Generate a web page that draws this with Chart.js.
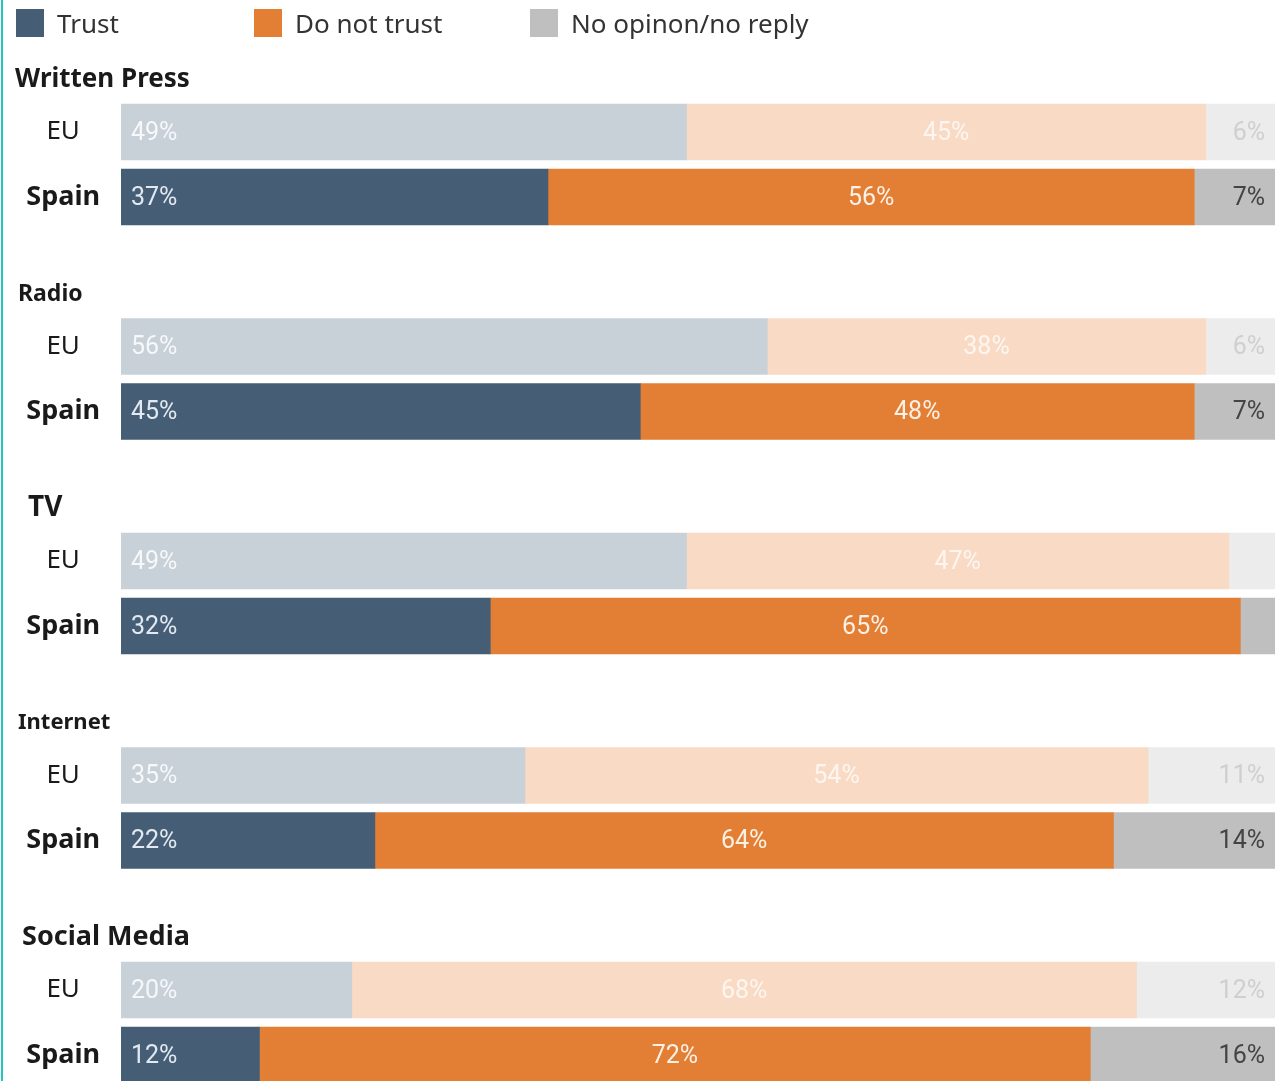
<!DOCTYPE html>
<html>
<head>
<meta charset="utf-8">
<script src="https://cdn.jsdelivr.net/npm/chart.js@4.4.1/dist/chart.umd.min.js"></script>
<style>
  html, body { margin: 0; padding: 0; background: #ffffff; }
  #wrap { position: relative; width: 1283px; height: 1081px; overflow: hidden; background: #fff; }
  #edge { position: absolute; left: 1px; top: 0; width: 2px; height: 1081px; background: #22c6bd; }
  #chartBox { position: absolute; left: 0; top: 0; width: 1283px; height: 1081px; }
  .leg { position: absolute; top: 9px; height: 28px; display: flex; align-items: center;
         font-family: "Noto Sans", "Open Sans", sans-serif; font-size: 26px; color: #333; }
  .leg span.box { display: inline-block; width: 28px; height: 28px; margin-right: 13px; }
</style>
</head>
<body>
<div id="wrap">
  <div id="chartBox"><canvas id="c"></canvas></div>
  <div id="edge"></div>
  <div id="legend"></div>
</div>
<script>
// ---- data ----
const groups = ['Written Press', 'Radio', 'TV', 'Internet', 'Social Media'];
const regions = ['EU', 'Spain'];
const seriesNames = ['Trust', 'Do not trust', 'No opinon/no reply'];
const trust      = [49, 37, 56, 45, 49, 32, 35, 22, 20, 12];
const distrust   = [45, 56, 38, 48, 47, 65, 54, 64, 68, 72];
const noOpinion  = [6, 7, 6, 7, 4, 3, 11, 14, 12, 16];

// ---- styles ----
const fullColors  = ['#455e76', '#e27f35', '#bfbfbf'];
const fadedColors = ['#c8d0d8', '#f8dac5', '#ececec'];
const labelFull   = ['#e2e9f0', '#fdf0e4', '#444444'];
const labelFaded  = ['#f6f8fa', '#fdf6f0', '#cfcfcf'];
const titleFontSize = [26, 23, 28, 22, 27];
const titleIndent   = [15, 18, 28, 18, 22];
const GROUP_STEP = 3.3;
const FONT = '"Noto Sans", "Open Sans", sans-serif';

const rowPos = [];
groups.forEach((g, gi) => regions.forEach((r, ri) => rowPos.push(gi * GROUP_STEP + ri)));

function mk(values, si) {
  return {
    label: seriesNames[si],
    data: values.map((v, i) => ({ x: v, y: rowPos[i] })),
    backgroundColor: values.map((v, i) => (i % 2 === 0 ? fadedColors[si] : fullColors[si])),
    borderWidth: 0,
    barThickness: 56
  };
}

// legend (HTML)
const legendLeft = [16, 254, 530];
const legendEl = document.getElementById('legend');
seriesNames.forEach((n, i) => {
  const d = document.createElement('div');
  d.className = 'leg';
  d.style.left = legendLeft[i] + 'px';
  d.innerHTML = '<span class="box" style="background:' + fullColors[i] + '"></span><span>' + n + '</span>';
  legendEl.appendChild(d);
});

const labelPlugin = {
  id: 'barLabels',
  afterDatasetsDraw(chart) {
    const ctx = chart.ctx;
    ctx.save();
    const area = chart.chartArea;
    ctx.beginPath();
    ctx.rect(area.left, area.top, area.right - area.left, area.bottom - area.top);
    ctx.clip();
    ctx.font = '25px Roboto, "Noto Sans", sans-serif';
    ctx.textBaseline = 'middle';
    chart.data.datasets.forEach((ds, si) => {
      const meta = chart.getDatasetMeta(si);
      meta.data.forEach((el, i) => {
        const v = ds.data[i].x;
        if (v < 5) return;
        const p = el.getProps(['x', 'y', 'base'], true);
        ctx.fillStyle = (i % 2 === 0 ? labelFaded : labelFull)[si];
        const txt = v + '%';
        const ty = p.y + 1.5;
        if (si === 0) { ctx.textAlign = 'left'; ctx.fillText(txt, p.base + 10, ty); }
        else if (si === 1) { ctx.textAlign = 'center'; ctx.fillText(txt, (p.base + p.x) / 2, ty); }
        else { ctx.textAlign = 'right'; ctx.fillText(txt, p.x - 10, ty); }
      });
    });
    ctx.restore();
  }
};

const titlePlugin = {
  id: 'groupTitles',
  afterDraw(chart) {
    const ctx = chart.ctx;
    const ys = chart.scales.y;
    ctx.save();
    ctx.fillStyle = '#1a1a1a';
    ctx.textAlign = 'left';
    ctx.textBaseline = 'middle';
    groups.forEach((g, gi) => {
      ctx.font = 'bold ' + titleFontSize[gi] + 'px ' + FONT;
      ctx.fillText(g, titleIndent[gi], ys.getPixelForValue(gi * GROUP_STEP) - 52.5);
    });
    ctx.restore();
  }
};

new Chart(document.getElementById('c'), {
  type: 'bar',
  data: { datasets: [mk(trust, 0), mk(distrust, 1), mk(noOpinion, 2)] },
  options: {
    indexAxis: 'y',
    responsive: true,
    maintainAspectRatio: false,
    animation: false,
    layout: { padding: { top: 93, right: 8, left: 0, bottom: 0 } },
    plugins: { legend: { display: false }, tooltip: { enabled: false } },
    scales: {
      x: { type: 'linear', stacked: true, min: 0, max: 100, display: false },
      y: {
        type: 'linear', stacked: true, reverse: true, offset: false, min: -0.6, max: 14.6,
        grid: { display: false, drawTicks: false, offset: false },
        border: { display: false },
        afterBuildTicks: (s) => { s.ticks = rowPos.map(v => ({ value: v })); },
        afterFit: (s) => { s.width = 121; s.paddingTop = 0; s.paddingBottom = 0; },
        ticks: {
          autoSkip: false,
          crossAlign: 'center',
          padding: 21,
          color: '#1a1a1a',
          callback: (v, i) => regions[i % 2],
          font: (c) => (c.index % 2 === 1
            ? { family: FONT, size: 27, weight: 'bold' }
            : { family: FONT, size: 26, weight: 'normal' })
        }
      }
    }
  },
  plugins: [labelPlugin, titlePlugin]
});
</script>
</body>
</html>
